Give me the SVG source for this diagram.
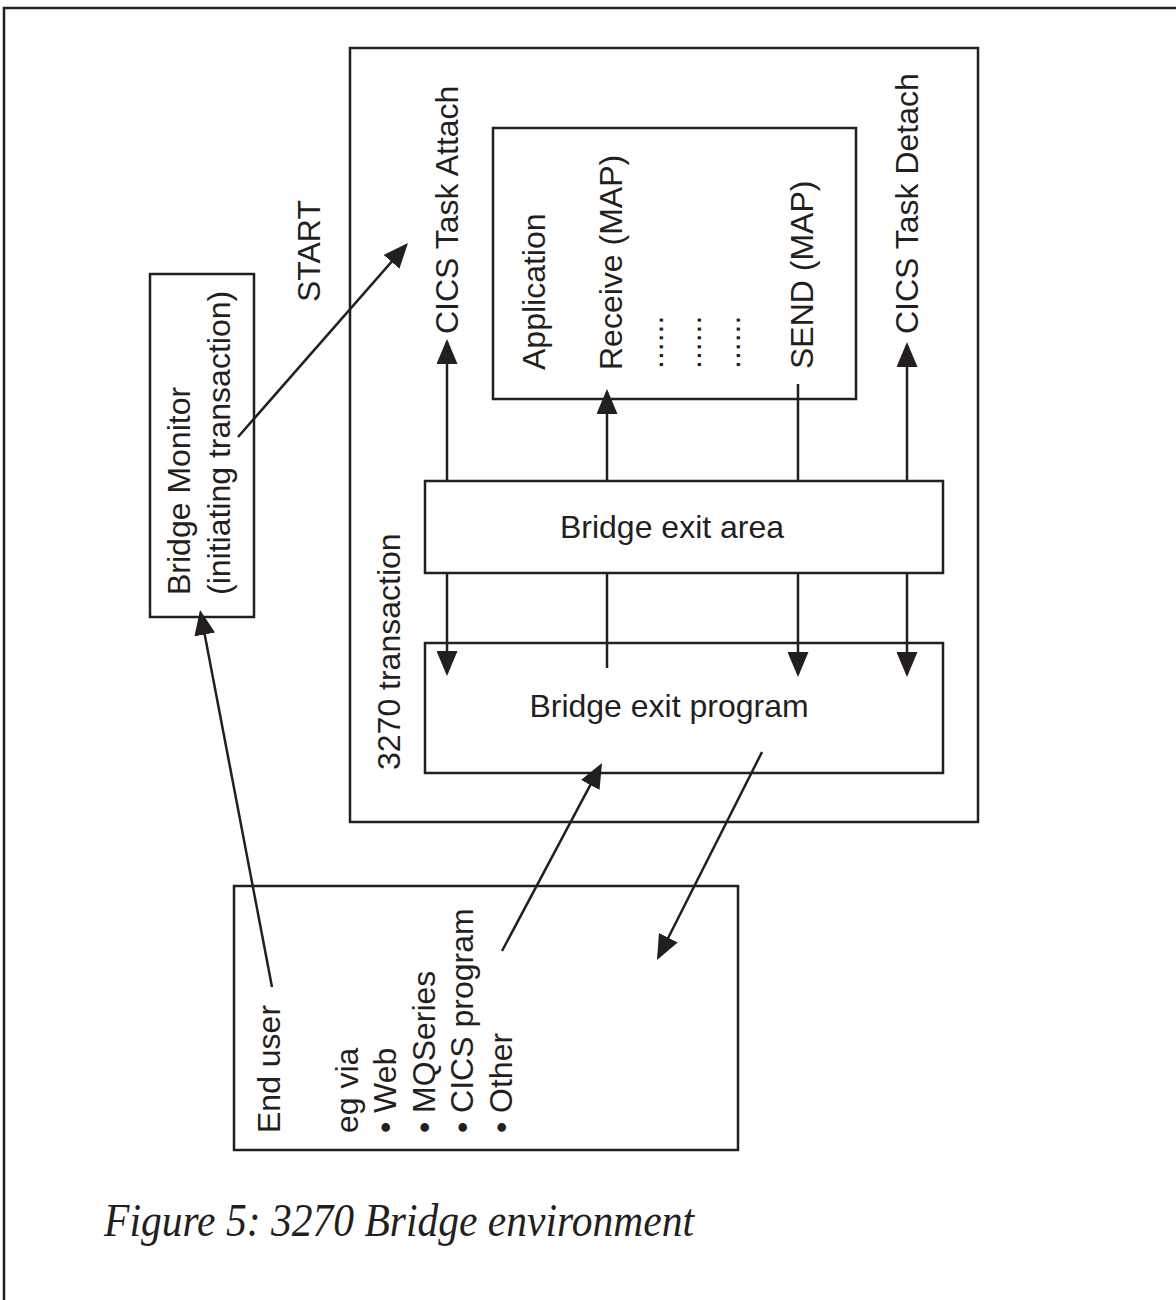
<svg xmlns="http://www.w3.org/2000/svg" width="1176" height="1300" viewBox="0 0 1176 1300">
<style>
.box{fill:none;stroke:#231f20;stroke-width:2.5}
.ln{fill:none;stroke:#231f20;stroke-width:2.5}
.t{font-family:"Liberation Sans",Arial,sans-serif;font-size:32px;fill:#231f20}
.h{font-family:"Liberation Sans",Arial,sans-serif;font-size:32px;fill:#231f20;text-anchor:middle}
.cap{font-family:"Liberation Serif","Times New Roman",serif;font-style:italic;font-size:47px;fill:#231f20}
</style>
<defs>
<marker id="ah" viewBox="0 0 25 21" refX="22" refY="10.5" markerWidth="25" markerHeight="21" markerUnits="userSpaceOnUse" orient="auto">
<path d="M0,0 L25,10.5 L0,21 z" fill="#231f20"/>
</marker>
</defs>
<rect x="0" y="0" width="1176" height="1300" fill="#ffffff"/>
<rect x="4" y="8" width="1200" height="1400" fill="none" stroke="#231f20" stroke-width="2.5"/>

<g id="transaction">
<rect class="box" x="350" y="48" width="628" height="774"/>
<text class="t" transform="translate(400,770) rotate(-90)">3270 transaction</text>
</g>

<g id="task-attach">
<text class="t" transform="translate(458,334) rotate(-90)">CICS Task Attach</text>
</g>
<g id="task-detach">
<text class="t" transform="translate(918,334) rotate(-90)">CICS Task Detach</text>
</g>
<g id="start-label">
<text class="t" transform="translate(320,302) rotate(-90)">START</text>
</g>

<g id="application">
<rect class="box" x="493" y="128" width="363" height="271"/>
<text class="t" transform="translate(545,370) rotate(-90)">Application</text>
<text class="t" transform="translate(622,370) rotate(-90)">Receive (MAP)</text>
<text class="t" transform="translate(663,369) rotate(-90)">......</text>
<text class="t" transform="translate(701,369) rotate(-90)">......</text>
<text class="t" transform="translate(740,369) rotate(-90)">......</text>
<text class="t" transform="translate(813,369) rotate(-90)">SEND (MAP)</text>
</g>

<g id="bridge-exit-area">
<rect class="box" x="425" y="481" width="518" height="92"/>
<text class="h" x="672" y="538">Bridge exit area</text>
</g>

<g id="bridge-exit-program">
<rect class="box" x="425" y="643" width="518" height="130"/>
<text class="h" x="669" y="717">Bridge exit program</text>
</g>

<g id="bridge-monitor">
<rect class="box" x="150" y="274" width="104" height="343"/>
<text class="t" transform="translate(190,595) rotate(-90)">Bridge Monitor</text>
<text class="t" transform="translate(230,595) rotate(-90)">(initiating transaction)</text>
</g>

<g id="end-user">
<rect class="box" x="234" y="886" width="504" height="264"/>
<text class="t" transform="translate(280,1133) rotate(-90)">End user</text>
<text class="t" transform="translate(358,1133) rotate(-90)">eg via</text>
<text class="t" transform="translate(396,1133) rotate(-90)">• Web</text>
<text class="t" transform="translate(435,1133) rotate(-90)">• MQSeries</text>
<text class="t" transform="translate(473,1133) rotate(-90)">• CICS program</text>
<text class="t" transform="translate(512,1133) rotate(-90)">• Other</text>
</g>

<g id="connectors">
<line class="ln" x1="447" y1="481" x2="447" y2="342" marker-end="url(#ah)"/>
<line class="ln" x1="447" y1="573" x2="447" y2="673" marker-end="url(#ah)"/>
<line class="ln" x1="607" y1="481" x2="607" y2="392" marker-end="url(#ah)"/>
<line class="ln" x1="607" y1="573" x2="607" y2="668"/>
<line class="ln" x1="798" y1="384" x2="798" y2="481"/>
<line class="ln" x1="798" y1="573" x2="798" y2="674" marker-end="url(#ah)"/>
<line class="ln" x1="907" y1="481" x2="907" y2="345" marker-end="url(#ah)"/>
<line class="ln" x1="907" y1="573" x2="907" y2="674" marker-end="url(#ah)"/>
<line class="ln" x1="238" y1="437" x2="406" y2="245.3" marker-end="url(#ah)"/>
<line class="ln" x1="272" y1="987" x2="200.6" y2="612.9" marker-end="url(#ah)"/>
<line class="ln" x1="502" y1="951" x2="600.6" y2="765.6" marker-end="url(#ah)"/>
<line class="ln" x1="762" y1="752" x2="658.4" y2="957.3" marker-end="url(#ah)"/>
</g>

<text class="cap" x="104" y="1236" textLength="590" lengthAdjust="spacingAndGlyphs">Figure 5: 3270 Bridge environment</text>
</svg>
